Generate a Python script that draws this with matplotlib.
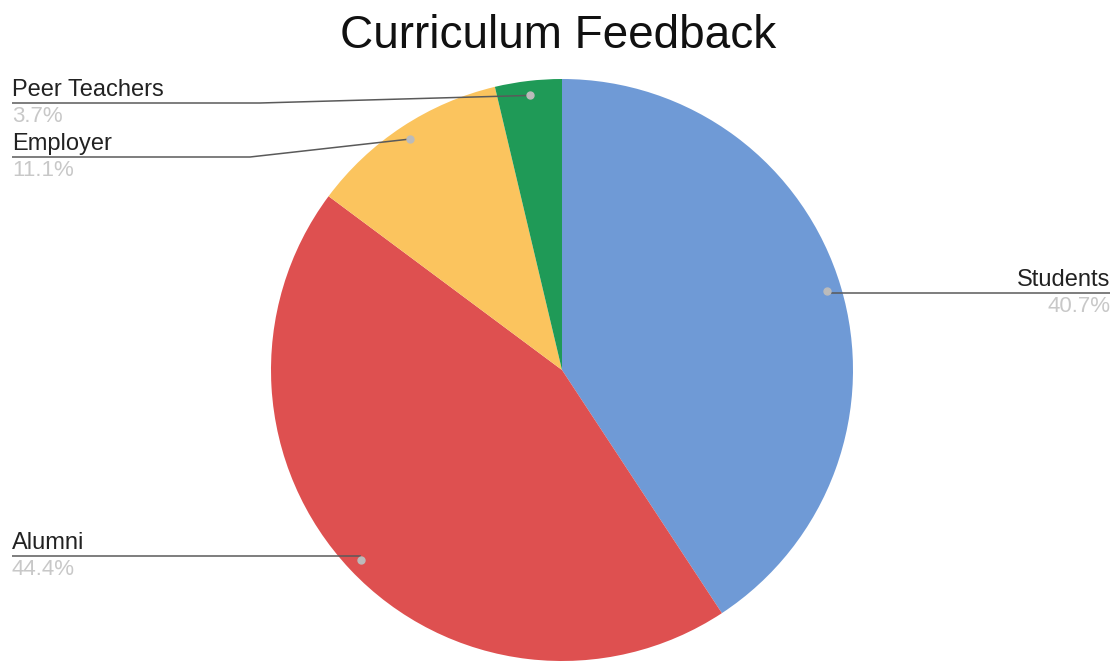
import matplotlib
matplotlib.use("Agg")
import matplotlib.pyplot as plt
import numpy as np

plt.rcParams['font.family'] = ['Liberation Sans', 'DejaVu Sans']

categories = ["Students", "Alumni", "Employer", "Peer Teachers"]
values = [11, 12, 3, 1]
pct_labels = ["40.7%", "44.4%", "11.1%", "3.7%"]
colors = ["#6f9ad6", "#de5050", "#fbc45e", "#1f9a57"]

W, H = 1116, 662
fig = plt.figure(figsize=(W / 100, H / 100), dpi=100)
ax = fig.add_axes([0, 0, 1, 1])

cx, cy, R = 562, H - 370, 291
wedges, _ = ax.pie(values, colors=colors, startangle=90, counterclock=False,
                   center=(cx, cy), radius=R, frame=True,
                   wedgeprops=dict(linewidth=0))
ax.set_xlim(0, W)
ax.set_ylim(0, H)
ax.set_aspect('equal')
ax.axis('off')

fig.text(0.5, 1 - 48 / H, "Curriculum Feedback", ha='center', va='baseline',
         fontsize=33, color='#111111')

# label layout: (text x, line y in px from top, elbow x, side)
layout = {
    "Students": (1110, 293, None, 'right'),
    "Alumni": (12, 556, None, 'left'),
    "Employer": (12, 157, 250, 'left'),
    "Peer Teachers": (12, 103, 260, 'left'),
}

for w, cat, pct in zip(wedges, categories, pct_labels):
    mid = np.deg2rad((w.theta1 + w.theta2) / 2)
    dx = cx + 0.95 * R * np.cos(mid)
    dy = cy + 0.95 * R * np.sin(mid)
    tx, ly, ex, side = layout[cat]
    ly = H - ly
    if ex is None:
        xs, ys = [dx, tx], [ly, ly]
    else:
        xs, ys = [dx, ex, tx], [dy, ly, ly]
    ax.plot(xs, ys, color='#5a5a5a', lw=1.1, solid_capstyle='butt', zorder=3)
    ax.plot([dx], [dy], 'o', color='#bbbbbb', ms=5, zorder=4)
    ha = 'right' if side == 'right' else 'left'
    ax.text(tx, ly + 7, cat, ha=ha, va='baseline', fontsize=17, color='#222222')
    ax.text(tx, ly - 19, pct, ha=ha, va='baseline', fontsize=16, color='#c8c8c8')

fig.savefig("out.png", dpi=100, facecolor='white')
